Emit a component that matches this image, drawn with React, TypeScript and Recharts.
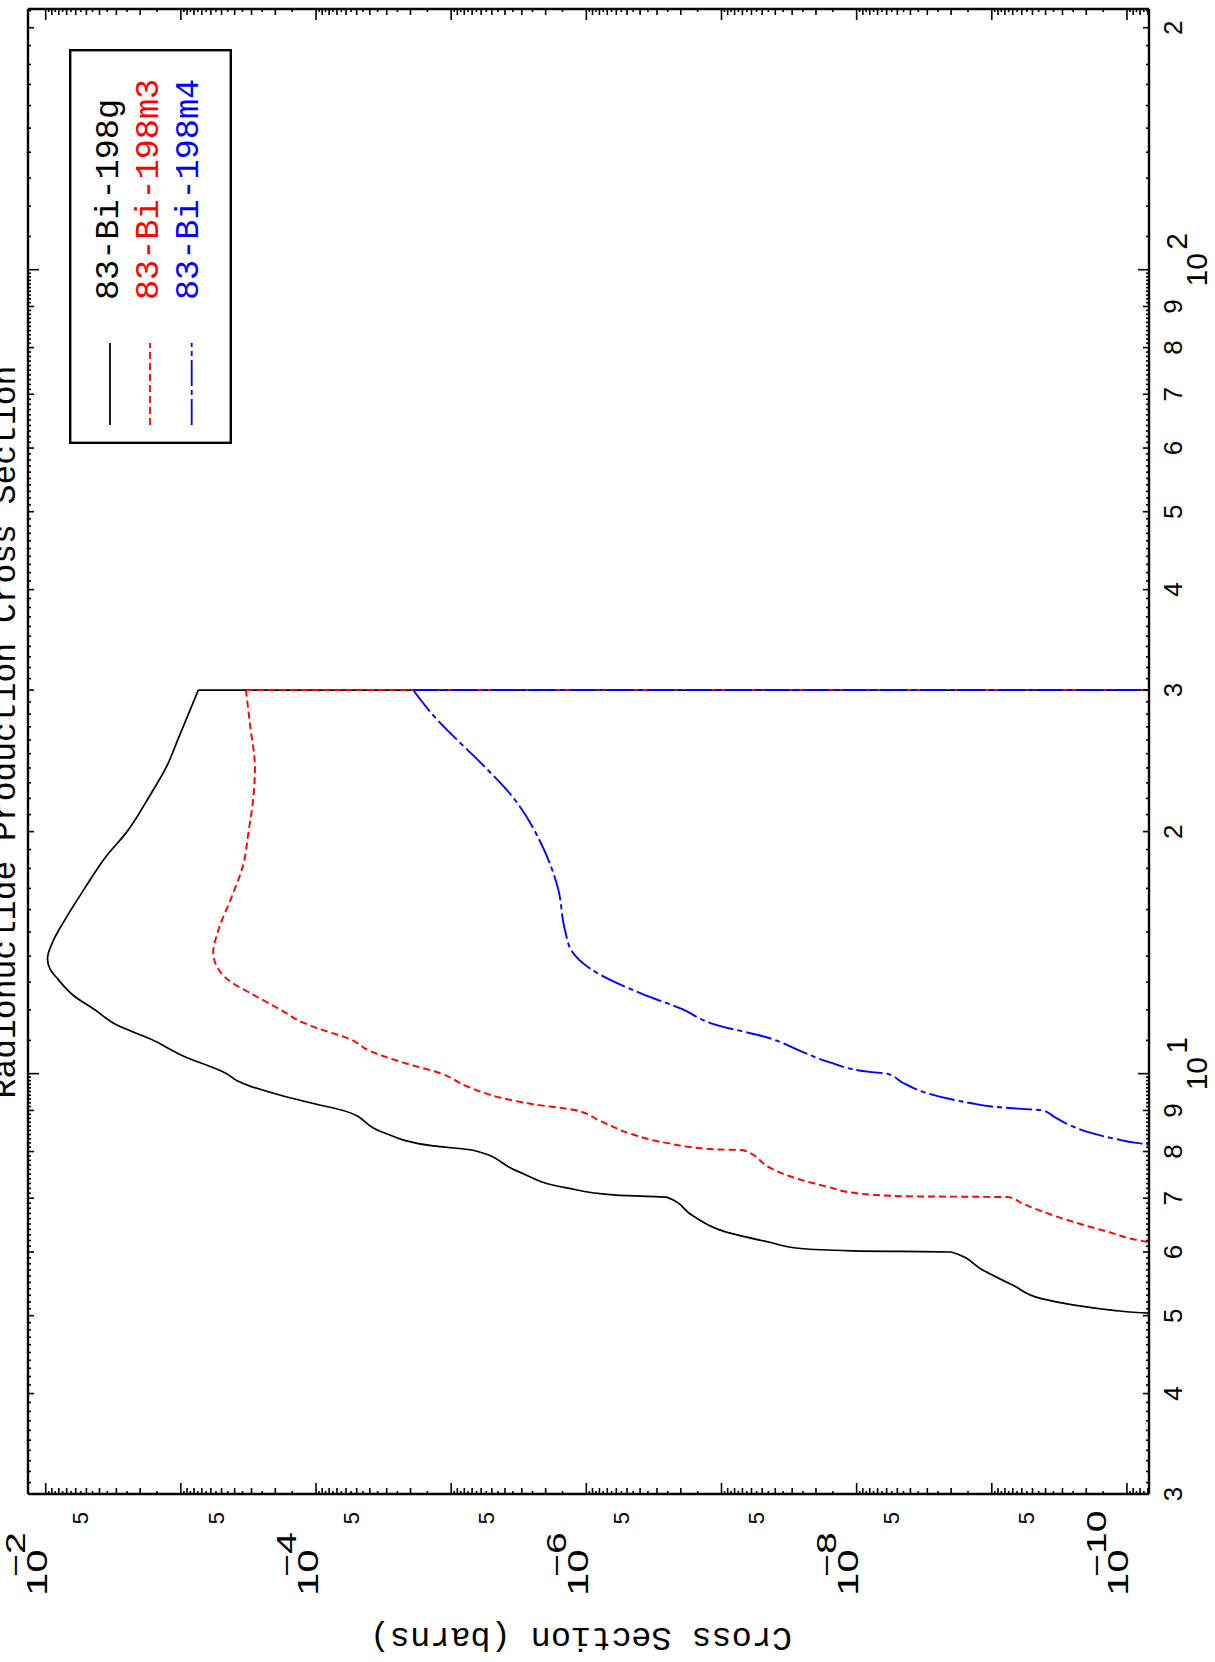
import React from 'react';
import { LineChart, Line, XAxis, YAxis, Legend } from 'recharts';

// ---------- series ----------
const seriesNames = ['83-Bi-198g', '83-Bi-198m3', '83-Bi-198m4'];
const seriesColors = ['#000000', '#ff0000', '#0000ff'];
const seriesDash = ['', '7 4', '26 4 5 4'];

// 83-Bi-198g (energy MeV, cross section barns); the last point is the cut-off at 30 MeV
const gEnergy = [5.0, 5.03, 5.08, 5.15, 5.25, 5.45, 5.7, 6.0, 6.02, 6.06, 6.17, 6.37, 6.65, 7.02, 7.06, 7.21, 7.57, 8.03, 8.13, 8.45, 9.01, 9.16, 9.38, 9.65, 9.79, 10.0, 10.52, 11.05, 11.5, 12.0, 12.5, 13.1, 13.5, 13.9, 14.6, 15.6, 17.0, 18.6, 20.0, 22.2, 24.0, 26.1, 30.0, 30.0];
const gCross = [1e-12, 6e-11, 1.3e-10, 2.4e-10, 4.3e-10, 6.9e-10, 1.17e-9, 2.0e-9, 1.1e-8, 2.6e-8, 4.4e-8, 9.7e-8, 1.62e-7, 2.55e-7, 6.0e-7, 1.4e-6, 3.28e-6, 6.9e-6, 1.36e-5, 3.18e-5, 6.5e-5, 9.9e-5, 1.75e-4, 3.08e-4, 3.8e-4, 4.58e-4, 9.6e-4, 1.69e-3, 3.0e-3, 4.3e-3, 6.2e-3, 8.1e-3, 9.3e-3, 9.7e-3, 8.85e-3, 7.1e-3, 5.15e-3, 3.6e-3, 2.5e-3, 1.69e-3, 1.29e-3, 1.045e-3, 7.43e-4, 1e-13];

// 83-Bi-198m3
const m3Energy = [6.1, 6.13, 6.2, 6.35, 6.64, 6.9, 7.02, 7.04, 7.1, 7.22, 7.52, 7.64, 8.03, 8.05, 8.2, 8.4, 8.73, 9.01, 9.16, 9.34, 9.65, 10.0, 10.32, 10.67, 11.04, 11.36, 11.57, 12.02, 12.6, 12.98, 13.5, 14.15, 15.05, 16.6, 18.2, 19.9, 22.05, 24.0, 27.2, 30.0, 30.0];
const m3Cross = [1e-13, 5e-11, 8e-11, 1.35e-10, 3.3e-10, 6e-10, 7.5e-10, 4.7e-9, 1.0e-8, 1.58e-8, 3.6e-8, 4.4e-8, 6.9e-8, 1.09e-7, 2.57e-7, 4.5e-7, 7.9e-7, 1.22e-6, 2.47e-6, 4.37e-6, 7.7e-6, 1.18e-5, 2.26e-5, 4.0e-5, 5.6e-5, 9.35e-5, 1.24e-4, 1.85e-4, 3.08e-4, 4.2e-4, 5.3e-4, 5.76e-4, 5.3e-4, 4.2e-4, 3.45e-4, 3.17e-4, 2.91e-4, 2.83e-4, 3.08e-4, 3.3e-4, 1e-13];

// 83-Bi-198m4
const m4Energy = [8.1, 8.13, 8.2, 8.29, 8.45, 8.64, 8.85, 9.0, 9.04, 9.1, 9.18, 9.47, 9.75, 10.0, 10.05, 10.33, 10.7, 11.04, 11.56, 12.04, 12.55, 13.5, 14.2, 15.1, 17.0, 19.1, 22.05, 24.3, 25.8, 27.6, 30.0, 30.0];
const m4Cross = [1e-13, 5e-11, 8.5e-11, 1.2e-10, 1.9e-10, 2.7e-10, 3.5e-10, 4.2e-10, 6e-10, 1.0e-9, 1.38e-9, 3.1e-9, 4.6e-9, 5.96e-9, 8e-9, 1.58e-8, 2.7e-8, 4.2e-8, 1.21e-7, 1.97e-7, 3.8e-7, 9.3e-7, 1.28e-6, 1.44e-6, 1.62e-6, 2.09e-6, 3.48e-6, 5.96e-6, 8.6e-6, 1.28e-5, 1.91e-5, 1e-13];

// ---------- axes ----------
const energyDomain = [3, 211];
const crossDomain = [6.87e-11, 1.352e-2];

const energyDigitTicks = [3, 4, 5, 6, 7, 8, 9, 20, 30, 40, 50, 60, 70, 80, 90, 200];
const energyDigitText = ['3', '4', '5', '6', '7', '8', '9', '2', '3', '4', '5', '6', '7', '8', '9', '2'];
const energyDecadeTicks = [10, 100];
const energyDecadeExp = ['1', '2'];

const crossFiveTicks = [5e-3, 5e-4, 5e-5, 5e-6, 5e-7, 5e-8, 5e-9, 5e-10];
const crossDecadeTicks = [1e-2, 1e-4, 1e-6, 1e-8, 1e-10];
const crossDecadeExp = ['\u22122', '\u22124', '\u22126', '\u22128', '\u221210'];
const crossMantissas = [1, 1.5, 2, 2.5, 3, 3.5, 4, 4.5, 5, 5.5, 6, 6.5, 7, 7.5, 8, 8.5, 9, 9.5];

const energyTicks: number[] = [];
for (let n = 30; n <= 99; n++) energyTicks.push(n / 10);
for (let n = 10; n <= 99; n++) energyTicks.push(n);
for (let n = 100; n <= 210; n += 10) energyTicks.push(n);

const crossTicks: number[] = [];
for (let k = -11; k <= -2; k++) {
  for (const m of crossMantissas) {
    const v = m * Math.pow(10, k);
    if (v >= crossDomain[0] && v <= crossDomain[1]) crossTicks.push(v);
  }
}

const toData = (e: number[], s: number[]) => e.map((x, i) => ({ e: x, s: s[i] }));
const allData = [toData(gEnergy, gCross), toData(m3Energy, m3Cross), toData(m4Energy, m4Cross)];
// smooth part of each curve, and the vertical cut-off segment at 30 MeV
const curveData = allData.map((d) => d.slice(0, d.length - 1));
const dropData = allData.map((d) => d.slice(d.length - 2));

const MONO = "'Liberation Mono', 'DejaVu Sans Mono', monospace";
const SANS = "'Liberation Sans', Arial, sans-serif";

function decompose(v: number) {
  const k = Math.floor(Math.log10(v) + 1e-9);
  const m = Math.round((v / Math.pow(10, k)) * 100) / 100;
  return { k, m };
}
const near = (a: number, b: number) => Math.abs(a / b - 1) < 1e-6;

function tickLen(v: number) {
  const { m } = decompose(v);
  if (Math.abs(m - 1) < 1e-6) return 11;
  if (Math.abs(m - Math.round(m)) < 1e-6) return 6;
  return 3;
}

function EnergyTick(props: any) {
  const { x, y, payload, side } = props;
  const v = payload.value;
  const len = tickLen(v);
  const dir = side === 'bottom' ? -1 : 1;
  let label: any = null;
  if (side === 'bottom') {
    const di = energyDigitTicks.findIndex((t) => near(v, t));
    const ci = energyDecadeTicks.findIndex((t) => near(v, t));
    if (di >= 0) {
      label = (
        <text x={x} y={y + 33} textAnchor="middle" fontSize={26} fontFamily={SANS} fill="#000">
          {energyDigitText[di]}
        </text>
      );
    } else if (ci >= 0) {
      label = (
        <g>
          <text x={x} y={y + 58} textAnchor="middle" fontSize={30} fontFamily={SANS} fill="#000">10</text>
          <text x={x + 20} y={y + 38} textAnchor="start" fontSize={30} fontFamily={SANS} fill="#000">
            {energyDecadeExp[ci]}
          </text>
        </g>
      );
    }
  }
  return (
    <g>
      <line x1={x} y1={y} x2={x} y2={y + dir * len} stroke="#000" strokeWidth={1.6} />
      {label}
    </g>
  );
}

function CrossTick(props: any) {
  const { x, y, payload, side } = props;
  const v = payload.value;
  const len = tickLen(v);
  const dir = side === 'left' ? 1 : -1;
  let label: any = null;
  if (side === 'left') {
    const fi = crossFiveTicks.findIndex((t) => near(v, t));
    const ci = crossDecadeTicks.findIndex((t) => near(v, t));
    if (fi >= 0) {
      label = (
        <text x={x - 18} y={y + 2} textAnchor="end" fontSize={22} fontFamily={SANS} fill="#000">5</text>
      );
    } else if (ci >= 0) {
      label = (
        <g>
          <g transform={`translate(${x - 102},${y + 1.5}) scale(1.4,1)`}>
            <text x={0} y={0} fontSize={30} fontFamily={SANS} fill="#000">10</text>
          </g>
          <g transform={`translate(${x - 83},${y - 20.5}) scale(1.4,1)`}>
            <text x={0} y={0} fontSize={28} fontFamily={SANS} fill="#000">{crossDecadeExp[ci]}</text>
          </g>
        </g>
      );
    }
  }
  return (
    <g>
      <line x1={x} y1={y} x2={x + dir * len} y2={y} stroke="#000" strokeWidth={1.6} />
      {label}
    </g>
  );
}

function TopTitle() {
  return (
    <text x={930} y={15} textAnchor="middle" fontSize={33} fontFamily={MONO} fill="#000">
      Radionuclide Production Cross Section
    </text>
  );
}

function YTitle() {
  return (
    <text transform="translate(34,581) rotate(-90)" textAnchor="middle" fontSize={33.5} fontFamily={MONO} fill="#000">
      Cross Section (barns)
    </text>
  );
}

function LegendBox() {
  const rows = [41, 81, 122.7];
  const base = [49, 89, 129];
  return (
    <svg width={395} height={163} style={{ display: 'block' }}>
      <rect x={1.2} y={1.2} width={392.6} height={160.6} fill="#fff" stroke="#000" strokeWidth={2.4} />
      {seriesNames.map((n, i) => (
        <g key={n}>
          <line
            x1={19}
            x2={101}
            y1={rows[i]}
            y2={rows[i]}
            stroke={seriesColors[i]}
            strokeWidth={1.8}
            strokeDasharray={seriesDash[i] || undefined}
          />
          <text x={144} y={base[i]} fontSize={33.5} fontFamily={MONO} fill={seriesColors[i]}>
            {n}
          </text>
        </g>
      ))}
    </svg>
  );
}

const frame = { stroke: '#000', strokeWidth: 2.4 };

export default function App() {
  return (
    <div style={{ position: 'fixed', left: 0, top: 0, width: 1215, height: 1662, overflow: 'hidden', background: '#fff' }}>
      <div
        style={{
          position: 'absolute',
          left: 0,
          top: 0,
          width: 1662,
          height: 1215,
          transformOrigin: '0 0',
          transform: 'translate(0px, 1662px) rotate(-90deg)',
        }}
      >
        <LineChart width={1662} height={1215} margin={{ top: 18, right: 0, bottom: 0, left: 0 }}>
          <XAxis
            xAxisId="bottom"
            type="number"
            dataKey="e"
            scale="log"
            domain={energyDomain}
            allowDataOverflow
            ticks={energyTicks}
            interval={0}
            height={66}
            tickSize={0}
            tickMargin={0}
            tickLine={false}
            axisLine={frame}
            tick={<EnergyTick side="bottom" />}
          />
          <XAxis
            xAxisId="top"
            orientation="top"
            type="number"
            dataKey="e"
            scale="log"
            domain={energyDomain}
            allowDataOverflow
            ticks={energyTicks}
            interval={0}
            height={10}
            tickSize={0}
            tickMargin={0}
            tickLine={false}
            axisLine={frame}
            tick={<EnergyTick side="top" />}
            label={<TopTitle />}
          />
          <YAxis
            yAxisId="left"
            type="number"
            scale="log"
            domain={crossDomain}
            allowDataOverflow
            ticks={crossTicks}
            interval={0}
            width={168}
            tickSize={0}
            tickMargin={0}
            tickLine={false}
            axisLine={frame}
            tick={<CrossTick side="left" />}
            label={<YTitle />}
          />
          <YAxis
            yAxisId="right"
            orientation="right"
            type="number"
            scale="log"
            domain={crossDomain}
            allowDataOverflow
            ticks={crossTicks}
            interval={0}
            width={9}
            tickSize={0}
            tickMargin={0}
            tickLine={false}
            axisLine={frame}
            tick={<CrossTick side="right" />}
          />
          {seriesNames.map((n, i) => (
            <Line
              key={n}
              name={n}
              xAxisId="bottom"
              yAxisId="left"
              data={curveData[i]}
              dataKey="s"
              type="monotoneX"
              stroke={seriesColors[i]}
              strokeWidth={i === 0 ? 1.7 : 1.9}
              strokeDasharray={seriesDash[i] || undefined}
              dot={false}
              activeDot={false}
              isAnimationActive={false}
            />
          ))}
          {seriesNames.map((n, i) => (
            <Line
              key={n + '-cut'}
              name={n + ' cut-off'}
              legendType="none"
              xAxisId="bottom"
              yAxisId="left"
              data={dropData[i]}
              dataKey="s"
              type="linear"
              stroke={seriesColors[i]}
              strokeWidth={i === 0 ? 1.7 : 1.9}
              strokeDasharray={seriesDash[i] || undefined}
              dot={false}
              activeDot={false}
              isAnimationActive={false}
            />
          ))}
          <Legend
            layout="horizontal"
            verticalAlign="middle"
            align="center"
            wrapperStyle={{ left: 1218, top: 69, width: 395, height: 163, margin: 0, padding: 0 }}
            content={() => <LegendBox />}
          />
        </LineChart>
      </div>
    </div>
  );
}
